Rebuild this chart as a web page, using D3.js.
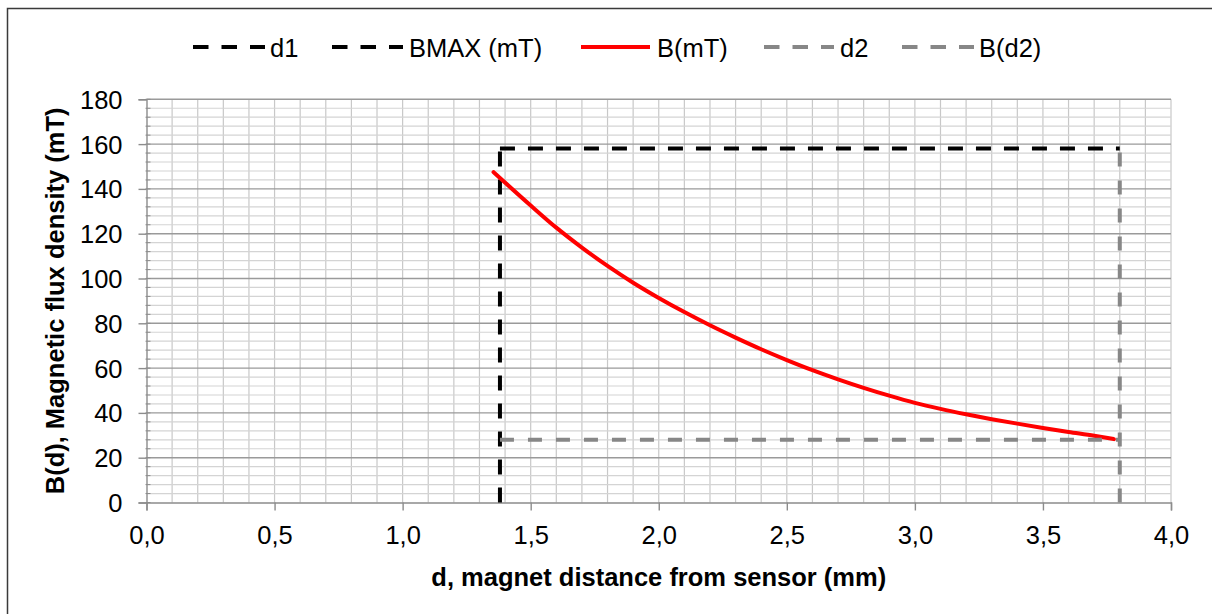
<!DOCTYPE html>
<html>
<head>
<meta charset="utf-8">
<script src="https://cdn.jsdelivr.net/npm/d3@7"></script>
<style>
  body { margin: 0; background: #fff; }
  text { font-family: "Liberation Sans", Arial, sans-serif; fill: #000; }
</style>
</head>
<body>
<script>
// magnet distance d (mm) and flux density B (mT)
var dValues = [1.355, 1.5, 1.6, 1.7, 1.8, 1.9, 2.0, 2.1, 2.2, 2.3, 2.4, 2.5, 2.6,
               2.7, 2.8, 2.9, 3.0, 3.1, 3.2, 3.3, 3.4, 3.5, 3.6, 3.7, 3.777];
var bValues = [147.5, 132.6, 122.7, 113.8, 105.6, 98.1, 91.3, 85.0, 79.1, 73.6, 68.4, 63.6, 59.1,
               55.0, 51.2, 47.7, 44.5, 41.8, 39.4, 37.2, 35.2, 33.3, 31.5, 29.8, 28.3];
// marker lines
var d1 = 1.38, d2 = 3.8;
var bMax = 158, bD2 = 28;
var xTicks = [0, 0.5, 1, 1.5, 2, 2.5, 3, 3.5, 4];
var yTicks = [0, 20, 40, 60, 80, 100, 120, 140, 160, 180];
var seriesNames = ["d1", "BMAX (mT)", "B(mT)", "d2", "B(d2)"];

var W = 1212, H = 614;
var FONT = 25.5;
var plot = {left: 146.5, right: 1171, top: 99.3, bottom: 502.5};

var svg = d3.select("body").append("svg")
  .attr("width", W).attr("height", H);

// chart frame
svg.append("rect")
  .attr("x", 7.5).attr("y", 8.5)
  .attr("width", 1240).attr("height", 640)
  .attr("fill", "none").attr("stroke", "#3a3a3a").attr("stroke-width", 1.5);

var x = d3.scaleLinear().domain([0, 4]).range([plot.left, plot.right]);
var y = d3.scaleLinear().domain([0, 180]).range([plot.bottom, plot.top]);

var grid = svg.append("g");
// vertical minor grid every 0.1
grid.selectAll("line.vx")
  .data(d3.range(1, 41).map(function(i){ return i / 10; }))
  .enter().append("line")
  .attr("x1", function(d){ return x(d); }).attr("x2", function(d){ return x(d); })
  .attr("y1", plot.top).attr("y2", plot.bottom)
  .attr("stroke", "#c8c8c8").attr("stroke-width", 1.2);
// horizontal minor grid every 4
grid.selectAll("line.hy")
  .data(d3.range(1, 46).map(function(i){ return i * 4; }).filter(function(v){ return v % 20 !== 0; }))
  .enter().append("line")
  .attr("x1", plot.left).attr("x2", plot.right)
  .attr("y1", function(d){ return y(d); }).attr("y2", function(d){ return y(d); })
  .attr("stroke", "#d4d4d4").attr("stroke-width", 1.2);
// horizontal major grid every 20
grid.selectAll("line.hm")
  .data(yTicks.slice(1))
  .enter().append("line")
  .attr("x1", plot.left).attr("x2", plot.right)
  .attr("y1", function(d){ return y(d); }).attr("y2", function(d){ return y(d); })
  .attr("stroke", "#9a9a9a").attr("stroke-width", 1.4);

// y axis
var yAxis = svg.append("g")
  .attr("transform", "translate(" + plot.left + ",0)")
  .call(d3.axisLeft(y).tickValues(yTicks).tickSize(8).tickPadding(16));
// y minor ticks
svg.append("g").selectAll("line")
  .data(d3.range(0, 46).map(function(i){ return i * 4; }))
  .enter().append("line")
  .attr("x1", plot.left - 1).attr("x2", plot.left + 4)
  .attr("y1", function(d){ return y(d); }).attr("y2", function(d){ return y(d); })
  .attr("stroke", "#8c8c8c").attr("stroke-width", 1);

// x axis
var xAxis = svg.append("g")
  .attr("transform", "translate(0," + plot.bottom + ")")
  .call(d3.axisBottom(x).tickValues(xTicks).tickSize(8)
    .tickFormat(function(d){ return d3.format(".1f")(d).replace(".", ","); }));

[xAxis, yAxis].forEach(function(a){
  a.select(".domain").attr("stroke", "#8c8c8c").attr("stroke-width", 1.4);
  a.selectAll(".tick line").attr("stroke", "#8c8c8c").attr("stroke-width", 1.4);
  a.selectAll(".tick text").attr("font-size", FONT).attr("fill", "#000")
    .attr("font-family", "Liberation Sans, Arial, sans-serif");
});
yAxis.selectAll(".tick text").attr("dy", "0.35em");
xAxis.selectAll(".tick text").attr("y", 41).attr("dy", 0);

// series
var series = [
  {name: seriesNames[0], color: "#000", dash: "15,13", pts: [[d1, 0], [d1, bMax]]},
  {name: seriesNames[1], color: "#000", dash: "15,13", pts: [[d1, bMax], [d2, bMax]]},
  {name: seriesNames[2], color: "#ff0000", dash: null,
    pts: dValues.map(function(d, i){ return [d, bValues[i]]; })},
  {name: seriesNames[3], color: "#878787", dash: "14,14", pts: [[d2, 0], [d2, bMax]]},
  {name: seriesNames[4], color: "#878787", dash: "14,14", pts: [[d1, bD2], [d2, bD2]]}
];

var line = d3.line()
  .x(function(p){ return x(p[0]); })
  .y(function(p){ return y(p[1]); })
  .curve(d3.curveMonotoneX);

svg.append("g").selectAll("path")
  .data(series)
  .enter().append("path")
  .attr("d", function(s){ return line(s.pts); })
  .attr("fill", "none")
  .attr("stroke", function(s){ return s.color; })
  .attr("stroke-width", 4)
  .attr("stroke-dasharray", function(s){ return s.dash; })
  .attr("stroke-linecap", function(s){ return s.dash ? "butt" : "round"; });

// legend
var legendPos = [
  {x1: 193, x2: 265, tx: 270},
  {x1: 332, x2: 403, tx: 409},
  {x1: 581, x2: 650, tx: 657},
  {x1: 764, x2: 834, tx: 840},
  {x1: 902, x2: 974, tx: 979}
];
var legend = svg.append("g").selectAll("g")
  .data(series)
  .enter().append("g");
legend.append("line")
  .attr("x1", function(s, i){ return legendPos[i].x1; })
  .attr("x2", function(s, i){ return legendPos[i].x2; })
  .attr("y1", 47).attr("y2", 47)
  .attr("stroke", function(s){ return s.color; })
  .attr("stroke-width", 4)
  .attr("stroke-dasharray", function(s){ return s.dash ? "15.5,13" : null; });
legend.append("text")
  .attr("x", function(s, i){ return legendPos[i].tx; })
  .attr("y", 57)
  .attr("font-size", FONT)
  .text(function(s){ return s.name; });

// axis titles
svg.append("text")
  .attr("x", (plot.left + plot.right) / 2).attr("y", 586)
  .attr("text-anchor", "middle")
  .attr("font-size", FONT).attr("font-weight", "bold")
  .text("d, magnet distance from sensor (mm)");

svg.append("text")
  .attr("transform", "translate(64," + ((plot.top + plot.bottom) / 2) + ") rotate(-90)")
  .attr("text-anchor", "middle")
  .attr("font-size", FONT).attr("font-weight", "bold")
  .text("B(d), Magnetic flux density (mT)");
</script>
</body>
</html>
